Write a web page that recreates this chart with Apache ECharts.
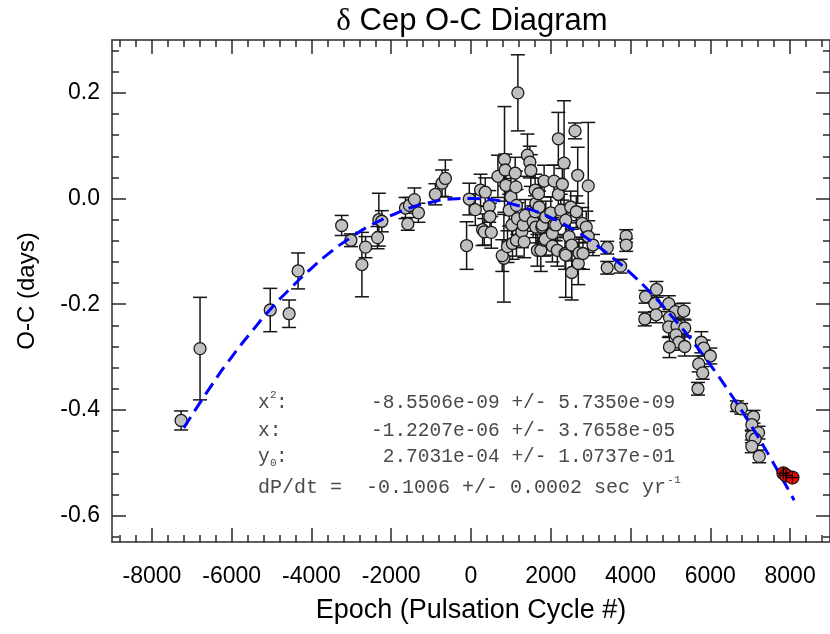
<!DOCTYPE html>
<html>
<head>
<meta charset="utf-8">
<script src="https://cdn.jsdelivr.net/npm/echarts@6/dist/echarts.min.js"></script>
<style>
html,body{margin:0;padding:0;background:#fff;}
#chart{width:830px;height:634px;}
</style>
</head>
<body>
<div id="chart"></div>
<script>
// Observed O-C points: [epoch, O-C (days), error (days)]
const obsEpoch = [-7268,-6793,-5033,-4560,-4335,-3242,-3010,-2643,-2735,-2343,-2310,-2235,-1643,-1585,-1543,-1418,-1318,-893,-725,-643,
 -110,-43,108,240,358,458,475,290,333,508,675,840,858,875,825,783,958,915,1000,1108,1125,1025,1040,1175,1165,1140,1140,1275,1333,1308,1358,1415,1475,1500,1558,1608,1608,1665,1625,1625,1690,1708,1750,1775,1790,1833,1833,1858,1875,2000,2040,2040,2083,2083,2125,2165,2190,2190,2250,2290,2333,2358,2375,2375,2458,2500,2525,2525,2608,2640,2675,2690,2708,2790,2808,2890,2940,2940,3058,3415,3415,3750,3890,3890,
 4650,4375,4608,4358,4640,4958,5125,5333,4975,4958,5165,5358,5140,5208,4975,5358,5775,5833,6000,5708,5808,5690,6665,6775,7083,7040,7208,7040,7125,7040,7225];
const obsOC = [-0.420,-0.284,-0.211,-0.218,-0.137,-0.051,-0.079,-0.092,-0.125,-0.074,-0.040,-0.043,-0.018,-0.048,-0.013,-0.002,-0.027,0.008,0.029,0.038,
 -0.089,-0.001,-0.021,0.016,0.012,-0.015,-0.034,-0.059,-0.063,-0.064,0.042,0.074,0.054,0.025,-0.113,-0.108,-0.022,-0.091,0.003,0.048,0.022,-0.050,-0.085,0.200,-0.038,-0.013,-0.079,-0.063,-0.082,-0.050,-0.032,0.082,0.069,0.053,-0.044,0.016,-0.025,-0.098,-0.009,-0.054,0.009,-0.016,-0.098,-0.054,-0.050,0.033,-0.079,-0.077,-0.035,-0.027,-0.066,-0.090,0.033,-0.049,-0.050,-0.098,0.113,0.008,-0.022,0.027,0.067,-0.104,-0.041,-0.107,-0.072,-0.016,-0.088,-0.140,0.128,-0.025,0.044,-0.123,-0.103,-0.047,-0.104,-0.054,0.024,-0.072,-0.088,-0.093,-0.131,-0.128,-0.071,-0.088,
 -0.172,-0.186,-0.199,-0.228,-0.220,-0.199,-0.214,-0.213,-0.225,-0.243,-0.241,-0.245,-0.258,-0.272,-0.281,-0.280,-0.272,-0.283,-0.298,-0.313,-0.330,-0.360,-0.393,-0.398,-0.413,-0.428,-0.443,-0.450,-0.455,-0.469,-0.488];
const obsErr = [0.018,0.097,0.041,0.026,0.034,0.019,0.012,0.020,0.061,0.021,0.050,0.020,0.020,0.012,0.015,0.022,0.018,0.020,0.025,0.035,
 0.045,0.030,0.030,0.030,0.027,0.030,0.025,0.030,0.025,0.030,0.040,0.100,0.030,0.030,0.083,0.030,0.030,0.030,0.035,0.030,0.030,0.030,0.030,0.072,0.030,0.030,0.030,0.030,0.030,0.030,0.030,0.040,0.030,0.030,0.030,0.030,0.030,0.030,0.030,0.030,0.030,0.030,0.040,0.030,0.030,0.030,0.030,0.030,0.030,0.030,0.030,0.030,0.030,0.030,0.030,0.030,0.050,0.030,0.030,0.030,0.118,0.030,0.030,0.080,0.030,0.030,0.030,0.052,0.015,0.030,0.053,0.040,0.030,0.030,0.030,0.030,0.120,0.030,0.020,0.012,0.012,0.013,0.012,0.012,
 0.015,0.012,0.015,0.013,0.015,0.015,0.015,0.015,0.015,0.020,0.015,0.015,0.015,0.015,0.020,0.018,0.020,0.015,0.015,0.015,0.012,0.012,0.010,0.010,0.012,0.012,0.012,0.012,0.012,0.012,0.012];

// Recent observations (red)
const newEpoch = [7833, 7900, 8058];
const newOC = [-0.520, -0.524, -0.528];
const newErr = [0.011, 0.011, 0.011];
const newEpochErr = [150, 150, 150];

// Quadratic fit curve
const fitEpoch = [-7200,-6500,-6000,-5500,-5000,-4500,-4000,-3500,-3000,-2500,-2000,-1500,-1000,-500,0,500,1000,1500,2000,2500,3000,3500,4000,4500,5000,5500,6000,6500,7000,7500,8000,8100];
const fitOC = [-0.434,-0.353,-0.300,-0.252,-0.207,-0.168,-0.132,-0.100,-0.073,-0.050,-0.032,-0.017,-0.007,-0.001,0.000,-0.002,-0.010,-0.021,-0.036,-0.056,-0.080,-0.109,-0.141,-0.178,-0.220,-0.265,-0.315,-0.369,-0.427,-0.490,-0.557,-0.571];

// Tick labels
const xMajorTicks = [-8000,-6000,-4000,-2000,0,2000,4000,6000,8000];
const yMajorTicks = [-0.6,-0.4,-0.2,0.0,0.2];

const xMinorTicks = [];
for (let v = -8800; v <= 8800; v += 400) xMinorTicks.push(v);
const yMinorTicks = [];
for (let i = -16; i <= 7; i++) yMinorTicks.push(+(i * 0.04).toFixed(2));

const XMIN = -9000, XMAX = 9000, YMIN = -0.65, YMAX = 0.3;
const AX = '#2a2a2a';
const FONT = 'Liberation Sans, Arial, sans-serif';

function xAx(pos, major, showLine, name) {
  const t = major ? xMajorTicks : xMinorTicks;
  return {
    type: 'value', position: pos, min: XMIN, max: XMAX, gridIndex: 0,
    axisLine: {show: showLine, onZero: false, lineStyle: {color: AX, width: 1.5}},
    axisTick: {show: true, inside: true, length: major ? 14 : 7, customValues: t, lineStyle: {color: AX, width: 1.5}},
    axisLabel: {show: !!name, customValues: xMajorTicks, margin: 23, color: '#000', fontSize: 23, fontFamily: FONT,
      formatter: v => String(Math.round(v))},
    splitLine: {show: false},
    name: name || '', nameLocation: 'middle', nameGap: 55,
    nameTextStyle: {color: '#000', fontSize: 27, fontFamily: FONT}
  };
}
function yAx(pos, major, showLine, name) {
  const t = major ? yMajorTicks : yMinorTicks;
  return {
    type: 'value', position: pos, min: YMIN, max: YMAX, gridIndex: 0,
    axisLine: {show: showLine, onZero: false, lineStyle: {color: AX, width: 1.5}},
    axisTick: {show: true, inside: true, length: major ? 14 : 7, customValues: t, lineStyle: {color: AX, width: 1.5}},
    axisLabel: {show: !!name, customValues: yMajorTicks, margin: 12, color: '#000', fontSize: 23, fontFamily: FONT,
      formatter: v => v.toFixed(1)},
    splitLine: {show: false},
    name: name || '', nameLocation: 'middle', nameGap: 73,
    nameTextStyle: {color: '#000', fontSize: 24, fontFamily: FONT}
  };
}

const obsData = obsEpoch.map((e, i) => [e, obsOC[i], obsErr[i]]);
const newData = newEpoch.map((e, i) => [e, newOC[i], newErr[i], newEpochErr[i]]);
const fitData = fitEpoch.map((e, i) => [e, fitOC[i]]);

function errRender(params, api) {
  const x = api.value(0), y = api.value(1), e = api.value(2);
  const top = api.coord([x, y + e]);
  const bot = api.coord([x, y - e]);
  const w = 7;
  const st = {stroke: '#151515', lineWidth: 1.5};
  return {type: 'group', children: [
    {type: 'line', shape: {x1: top[0], y1: top[1], x2: bot[0], y2: bot[1]}, style: st},
    {type: 'line', shape: {x1: top[0] - w, y1: top[1], x2: top[0] + w, y2: top[1]}, style: st},
    {type: 'line', shape: {x1: bot[0] - w, y1: bot[1], x2: bot[0] + w, y2: bot[1]}, style: st}
  ]};
}
function crossRender(params, api) {
  const x = api.value(0), y = api.value(1), e = api.value(2), ex = api.value(3);
  const top = api.coord([x, y + e]);
  const bot = api.coord([x, y - e]);
  const l = api.coord([x - ex, y]);
  const r = api.coord([x + ex, y]);
  const st = {stroke: '#000', lineWidth: 1.3};
  return {type: 'group', children: [
    {type: 'line', shape: {x1: top[0], y1: top[1], x2: bot[0], y2: bot[1]}, style: st},
    {type: 'line', shape: {x1: l[0], y1: l[1], x2: r[0], y2: r[1]}, style: st}
  ]};
}

const chart = echarts.init(document.getElementById('chart'), null, {renderer: 'canvas'});
const MONO = 'Liberation Mono, Courier New, monospace';
const TC = '#4a4a4a';
function txt(s, x, y, size) {
  return {type: 'text', x: x, y: y, silent: true, z: 50,
    style: {text: s, fontSize: size || 19.5, fontFamily: MONO, fill: TC, verticalAlign: 'middle', align: 'left'}};
}

chart.setOption({
  animation: false,
  backgroundColor: '#fff',
  title: {text: '{d|δ} Cep O-C Diagram', left: 467, top: 1, textAlign: 'center',
    textStyle: {color: '#000', fontSize: 31, fontWeight: 'normal', fontFamily: FONT,
      rich: {d: {fontFamily: 'Liberation Serif, Times New Roman, serif', fontSize: 31, color: '#000'}}}},
  grid: {left: 112, top: 40, width: 719, height: 502, containLabel: false},
  xAxis: [
    xAx('bottom', true, true, 'Epoch (Pulsation Cycle #)'),
    xAx('bottom', false, false, null),
    xAx('top', true, true, null),
    xAx('top', false, false, null)
  ],
  yAxis: [
    yAx('left', true, true, 'O-C (days)'),
    yAx('left', false, false, null),
    yAx('right', true, true, null),
    yAx('right', false, false, null)
  ],
  series: [
    {type: 'custom', name: 'errors', renderItem: errRender, data: obsData,
      encode: {x: 0, y: 1}, z: 2, silent: true},
    {type: 'scatter', name: 'O-C', data: obsData, symbol: 'circle', symbolSize: 12, z: 3,
      itemStyle: {color: '#c0c0c0', borderColor: '#1a1a1a', borderWidth: 1.3, opacity: 1}},
    {type: 'line', name: 'fit', data: fitData, smooth: true, showSymbol: false, symbol: 'none', z: 4,
      lineStyle: {color: '#0000ff', width: 3, type: [13, 7]}},
    {type: 'scatter', name: 'new', data: newData, symbol: 'circle', symbolSize: 13, z: 5,
      itemStyle: {color: '#ff0000', borderColor: '#1a1a1a', borderWidth: 1.3, opacity: 1}},
    {type: 'custom', name: 'newerr', renderItem: crossRender, data: newData,
      encode: {x: 0, y: 1}, z: 6, silent: true}
  ],
  graphic: [
    txt('x', 258, 403), txt('2', 270, 395, 11), txt(':', 276, 403),
    txt('-8.5506e-09 +/- 5.7350e-09', 371, 403),
    txt('x:', 258, 431),
    txt('-1.2207e-06 +/- 3.7658e-05', 371, 431),
    txt('y', 258, 457), txt('0', 270, 463, 11), txt(':', 276, 457),
    txt(' 2.7031e-04 +/- 1.0737e-01', 371, 457),
    txt('dP/dt =  -0.1006 +/- 0.0002 sec yr', 258, 488, 20),
    txt('-1', 667, 480, 11.5)
  ]
});
</script>
</body>
</html>
